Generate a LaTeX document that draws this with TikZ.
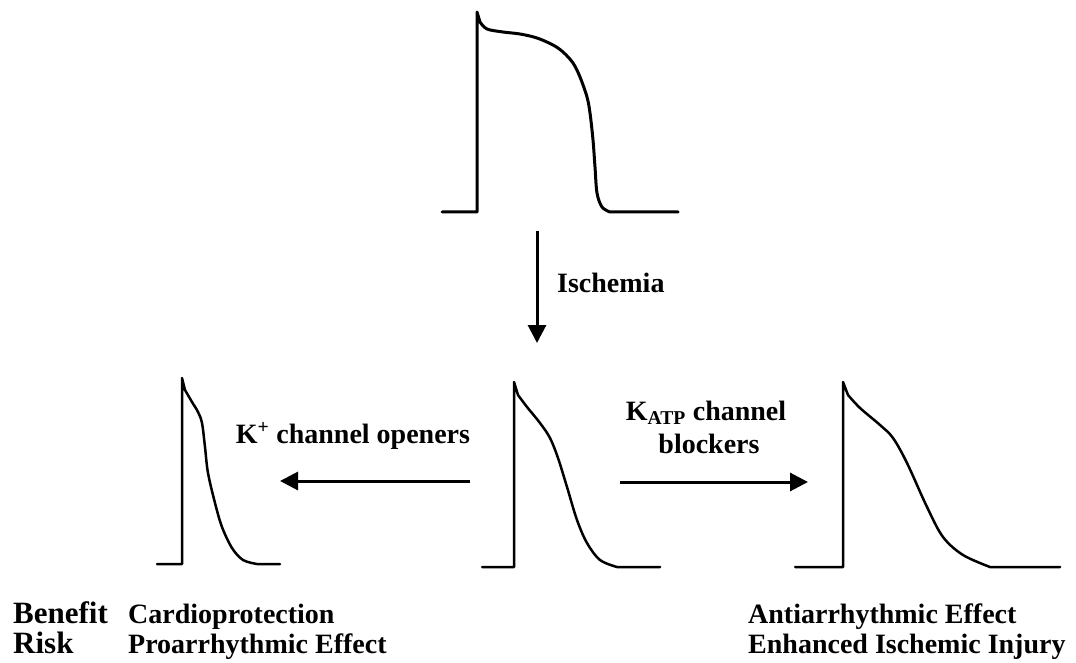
\documentclass[tikz,border=0pt]{standalone}
\usepackage{fontspec}
\setmainfont{Liberation Serif}
\usetikzlibrary{arrows.meta,positioning}

\begin{document}
\begin{tikzpicture}[
    x=1pt, y=-1pt,
    trace/.style={line width=2.5pt, line join=round, line cap=round},
    flow/.style={-{Triangle[length=18pt, width=18pt]}, line width=3pt},
    lbl/.style={font=\fontsize{28}{33}\selectfont\bfseries, inner sep=0pt},
    head/.style={font=\fontsize{31}{33}\selectfont\bfseries, inner sep=0pt}
]
\useasboundingbox (0,0) rectangle (1076,663);

% normal action potential
\draw[trace, line width=3pt] (442,212) -- (477,212) -- (477,12) -- plot[smooth, tension=0.55] coordinates {
    (480,22) (487,29) (503,32) (520,34) (537,38) (553,45) (563,52) (573,63)
    (580,77) (587,97) (590,113) (593,140) (595,167) (597,193) (602,207) (610,212)}
    -- (678,212);

% ischemic action potential
\draw[trace] (482,567) -- (514,567) -- (514,382) -- plot[smooth, tension=0.55] coordinates {
    (518,395) (527,407) (540,423) (550,438) (558,458) (567,487) (577,520)
    (587,543) (600,560) (617,567)} -- (660,567);

% with K+ channel openers
\draw[trace] (157,564) -- (182,564) -- (182,378) -- plot[smooth, tension=0.55] coordinates {
    (185,390) (192,402) (198,412) (202,423) (205,447) (208,473) (215,503)
    (222,527) (232,548) (243,560) (257,564)} -- (280,564);

% with KATP channel blockers
\draw[trace] (795,567) -- (843,567) -- (843,382) -- plot[smooth, tension=0.55] coordinates {
    (848,395) (860,408) (880,425) (893,438) (907,463) (927,507) (943,537)
    (963,555) (990,567)} -- (1060,567);

% arrow ends
\coordinate (isch-from) at (537,231);
\coordinate (isch-tip) at (537,343);
\coordinate (open-from) at (470,481);
\coordinate (open-tip) at (280,481);
\coordinate (block-from) at (620,482);
\coordinate (block-tip) at (808,482);

\draw[flow] (isch-from) -- (isch-tip);
\draw[flow] (open-from) -- (open-tip);
\draw[flow] (block-from) -- (block-tip);

\node[lbl, anchor=base west] (ischemia) at (557,292) {Ischemia};
\node[lbl, anchor=base] (openers) at (353,443) {K\textsuperscript{+} channel openers};
\node[lbl, anchor=base] (katp) at (706,420) {K\textsubscript{ATP} channel};
\node[lbl, anchor=base] (blockers) at (709,453) {blockers};

% benefit and risk
\node[head, anchor=base west] (benefit) at (13,623) {Benefit};
\node[head, anchor=base west] (risk) at (13,653) {Risk};
\node[lbl, anchor=base west] (cardio) at (128,623) {Cardioprotection};
\node[lbl, anchor=base west] (proarr) at (128,653) {Proarrhythmic Effect};
\node[lbl, anchor=base west] (antiarr) at (748,623) {Antiarrhythmic Effect};
\node[lbl, anchor=base west] (injury) at (748,653) {Enhanced Ischemic Injury};
\end{tikzpicture}
\end{document}
